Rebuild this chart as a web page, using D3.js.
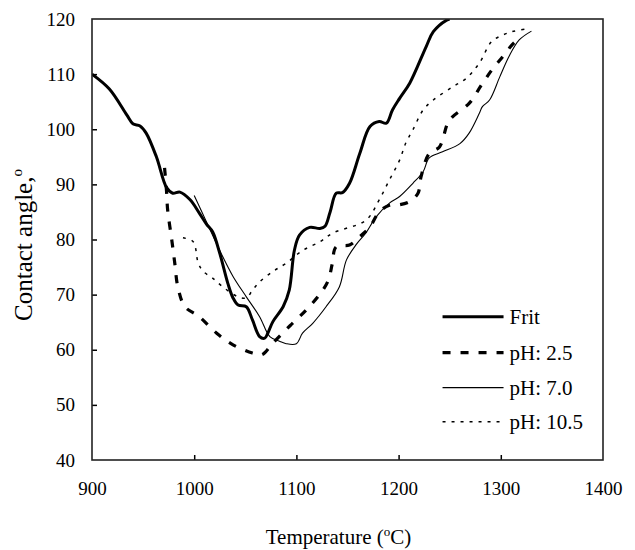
<!DOCTYPE html>
<html>
<head>
<meta charset="utf-8">
<script src="https://cdn.jsdelivr.net/npm/d3@7"></script>
<style>
  body { margin: 0; background: #fff; }
  text { font-family: "Liberation Serif", "Times New Roman", serif; fill: #000; }
</style>
</head>
<body>
<div id="chart"></div>
<script>
// temperature (C), contact angle (deg)
const frit = [
  [900, 110], [917, 107.3], [934, 102.6], [940, 101], [947, 100.6], [953, 99.3],
  [963, 95], [973, 89.4], [979, 88.4], [986, 88.6], [996, 87.2], [1005, 84.8],
  [1012, 82.8], [1018, 81.4], [1025, 77.5], [1033, 72], [1038, 69.4], [1043, 68.1],
  [1051, 67.8], [1057, 65.4], [1064, 62.4], [1069, 62.1], [1072, 63], [1077, 65.1],
  [1087, 67.8], [1093, 70.8], [1098, 78], [1103, 80.8], [1113, 82.2], [1123, 82],
  [1128, 82.4], [1133, 85], [1139, 88.4], [1145, 88.5], [1152, 90.2], [1162, 95.6],
  [1172, 100.5], [1181, 101.4], [1188, 101.1], [1194, 103.5], [1201, 105.6],
  [1211, 108.4], [1227, 115], [1234, 117.7], [1247, 119.8], [1250, 120]
];
const ph25 = [
  [971, 93], [973, 88.6], [974, 85.4], [978, 80], [981, 75.7], [984, 71.4],
  [991, 67.8], [1005, 66], [1022, 63], [1038, 60.9], [1057, 59.4], [1066, 59.1],
  [1077, 61.2], [1094, 64.4], [1110, 67.3], [1123, 70.1], [1131, 72.5], [1135, 75.5],
  [1139, 78.7], [1152, 79], [1162, 80.5], [1172, 82.3], [1181, 85], [1191, 86.2],
  [1201, 86.3], [1211, 86.9], [1219, 88.4], [1222, 91.4], [1230, 95.6], [1240, 96.8],
  [1248, 101.1], [1253, 102.3], [1269, 104.7], [1281, 108], [1291, 110.7],
  [1302, 113.2], [1311, 115.3], [1315, 116]
];
const ph70 = [
  [1000, 88], [1012, 83.2], [1025, 78], [1038, 73.3], [1051, 69.6], [1064, 66],
  [1074, 62.4], [1084, 61.5], [1090, 61.1], [1100, 61.1], [1106, 63], [1116, 64.8],
  [1129, 67.8], [1142, 71.4], [1149, 76.3], [1159, 79.2], [1168, 81.2], [1178, 84.1],
  [1191, 86.6], [1201, 87.8], [1214, 90.2], [1224, 92.3], [1230, 94.8], [1243, 95.9],
  [1260, 97.4], [1269, 99.3], [1279, 102.9], [1282, 104.1], [1289, 105.3],
  [1299, 109.5], [1308, 113.2], [1318, 116.2], [1330, 117.8]
];
const ph105 = [
  [989, 80.3], [999, 79.6], [1004, 75.7], [1009, 74.2], [1018, 73], [1028, 71.4],
  [1043, 69.6], [1051, 69.4], [1057, 70.8], [1064, 72.3], [1077, 74.2], [1090, 75.7],
  [1106, 78], [1123, 79.6], [1136, 81.2], [1168, 83.5], [1181, 87.2], [1191, 90.8],
  [1201, 94.4], [1207, 97.5], [1214, 99.9], [1224, 103.5], [1234, 105.3],
  [1253, 107.7], [1266, 109.2], [1279, 112], [1291, 115.9], [1302, 117.1],
  [1311, 117.7], [1328, 118.3]
];

const seriesNames = ["Frit", "pH: 2.5", "pH: 7.0", "pH: 10.5"];
const seriesData = [frit, ph25, ph70, ph105];
const xTicks = [900, 1000, 1100, 1200, 1300, 1400];
const yTicks = [40, 50, 60, 70, 80, 90, 100, 110, 120];

const styles = [
  {w: 3, dash: null},
  {w: 3.2, dash: "8,10"},
  {w: 1.1, dash: null},
  {w: 1.5, dash: "3,6"}
];

const W = 635, H = 550;
const margin = {top: 19, right: 32, bottom: 90, left: 92};
const width = W - margin.left - margin.right,
      height = H - margin.top - margin.bottom;
const serif = "'Liberation Serif', 'Times New Roman', serif";

const svg = d3.select("#chart").append("svg")
    .attr("width", W)
    .attr("height", H);

const g = svg.append("g")
    .attr("transform", `translate(${margin.left},${margin.top})`);

const x = d3.scaleLinear().domain([900, 1400]).range([0, width]);
const y = d3.scaleLinear().domain([40, 120]).range([height, 0]);

g.append("clipPath").attr("id", "clip")
  .append("rect").attr("width", width).attr("height", height);

const line = d3.line()
    .x(d => x(d[0]))
    .y(d => y(d[1]))
    .curve(d3.curveCatmullRom.alpha(0.5));

g.selectAll(".series")
  .data(seriesData)
  .enter().append("path")
    .attr("class", "series")
    .attr("clip-path", "url(#clip)")
    .attr("d", line)
    .attr("fill", "none")
    .attr("stroke", "#000")
    .attr("stroke-width", (d, i) => styles[i].w)
    .attr("stroke-dasharray", (d, i) => styles[i].dash)
    .attr("stroke-linejoin", "round");

// axes with inward ticks
const xAxis = g.append("g")
    .attr("transform", `translate(0,${height})`)
    .call(d3.axisBottom(x).tickValues(xTicks).tickFormat(d3.format("d")).tickSize(-5).tickPadding(22));
const yAxis = g.append("g")
    .call(d3.axisLeft(y).tickValues(yTicks).tickFormat(d3.format("d")).tickSize(-5).tickPadding(17));

[xAxis, yAxis].forEach(a => {
  a.attr("font-family", serif).attr("font-size", 19);
  a.select(".domain").remove();
  a.selectAll("line").attr("stroke", "#000").attr("stroke-width", 1.5);
  a.selectAll("text").attr("fill", "#000");
});
xAxis.selectAll(".tick").filter(d => d === 900 || d === 1400).select("line").remove();
yAxis.selectAll(".tick").filter(d => d === 40 || d === 120).select("line").remove();

g.append("rect")
    .attr("width", width)
    .attr("height", height)
    .attr("fill", "none")
    .attr("stroke", "#222")
    .attr("stroke-width", 1.6);

// axis titles
const xt = svg.append("text")
    .attr("x", margin.left + width / 2 - 9)
    .attr("y", 544)
    .attr("text-anchor", "middle")
    .style("font-size", "21px");
xt.append("tspan").text("Temperature (");
xt.append("tspan").attr("dy", -8).style("font-size", "13px").text("o");
xt.append("tspan").attr("dy", 8).text("C)");

const yt = svg.append("text")
    .attr("transform", `translate(32,245) rotate(-90)`)
    .attr("text-anchor", "middle")
    .style("font-size", "25px");
yt.append("tspan").text("Contact angle,");
yt.append("tspan").attr("dy", -10).style("font-size", "15px").text("o");

// legend
const legend = g.append("g")
    .attr("transform", `translate(${x(1243)},${y(66)})`);
const rows = legend.selectAll(".leg")
  .data(seriesNames)
  .enter().append("g")
    .attr("transform", (d, i) => `translate(0,${[0, 36, 71, 105][i]})`);
rows.append("line")
    .attr("x1", 0).attr("x2", 61)
    .attr("stroke", "#000")
    .attr("stroke-width", (d, i) => styles[i].w)
    .attr("stroke-dasharray", (d, i) => styles[i].dash);
rows.append("text")
    .attr("x", 67)
    .attr("dy", "0.33em")
    .style("font-size", "21px")
    .text(d => d);
</script>
</body>
</html>
